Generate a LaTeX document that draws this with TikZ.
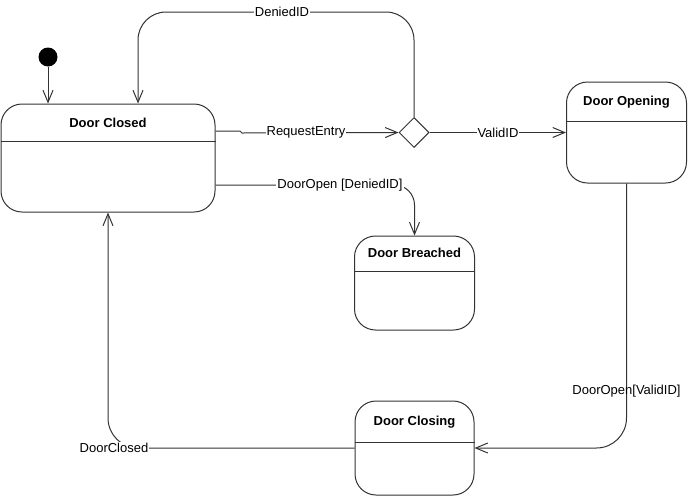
\documentclass[tikz,border=0pt]{standalone}
\usepackage{fontspec}
\setmainfont{Liberation Sans}
\usetikzlibrary{arrows.meta,shapes.geometric}
\definecolor{lc}{HTML}{333333}
\begin{document}
\begin{tikzpicture}[x=1pt,y=-1pt,
  state/.style={draw=lc, line width=1pt, rounded corners=21pt, inner sep=0pt},
  title/.style={font=\fontsize{13}{15}\selectfont\bfseries, inner sep=0pt},
  lbl/.style={font=\fontsize{13}{15}\selectfont, fill=white, inner sep=1pt},
  lblnf/.style={font=\fontsize{13}{15}\selectfont, inner sep=1pt},
  div/.style={draw=lc, line width=1pt},
  tr/.style={draw=lc, line width=1pt, -{Straight Barb[length=12pt,width=10pt,line width=1pt]}}]
\fill[white] (0,0) rectangle (690,496);
\useasboundingbox (0,0) rectangle (690,496);

% states
\node[state, minimum width=214pt, minimum height=108pt] (closed) at (108,158) {};
\node[title] (tclosed) at (108,123) {Door Closed};
\draw[div] (closed.west |- 0,141) -- (closed.east |- 0,141);

\node[state, minimum width=120pt, minimum height=101pt] (opening) at (626.5,132.5) {};
\node[title] (topening) at (626.5,102) {Door Opening};
\draw[div] (opening.west |- 0,121) -- (opening.east |- 0,121);

\node[state, minimum width=120pt, minimum height=94pt] (breached) at (414.5,283) {};
\node[title] (tbreached) at (414.5,253) {Door Breached};
\draw[div] (breached.west |- 0,271) -- (breached.east |- 0,271);

\node[state, minimum width=119pt, minimum height=94pt] (closing) at (414.5,448) {};
\node[title] (tclosing) at (414.5,422) {Door Closing};
\draw[div] (closing.west |- 0,442) -- (closing.east |- 0,442);

% pseudo states
\node[circle, fill=black, minimum size=19pt, inner sep=0pt] (init) at (48,57) {};
\node[diamond, draw=lc, line width=1pt, fill=white, minimum width=30pt, minimum height=30pt, inner sep=0pt] (choice) at (414,132.5) {};

% transitions
\draw[tr] (init) -- (init |- closed.north);

\draw[tr, rounded corners=28pt] (choice.north) -- (414,12) -- (138,12) -- (138,0 |- closed.north);
\node[lbl] (ldenied) at (282,12) {DeniedID};

\draw[tr] (closed.east |- 0,131) -- (240,131) -- (242,133) -- (choice.west);
\node[lbl] (lrequest) at (306,132.5) {RequestEntry};

\draw[tr] (choice.east) -- (opening.west |- choice.east);
\node[lbl] (lvalid) at (498,132.5) {ValidID};

\draw[tr, rounded corners=20pt] (closed.east |- 0,185) -- (414.5,185) -- (breached.north);
\node[lbl] (ldoordenied) at (340,185) {DoorOpen [DeniedID]};

\draw[tr, rounded corners=30pt] (opening.south) -- (opening.south |- 0,448) -- (closing.east |- 0,448);
\node[lblnf] (ldoorvalid) at (626.5,391) {DoorOpen[ValidID]};

\draw[tr, rounded corners=30pt] (closing.west |- 0,448) -- (108,448) -- (108,0 |- closed.south);
\node[lbl] (lclosed) at (114,448) {DoorClosed};
\end{tikzpicture}
\end{document}
